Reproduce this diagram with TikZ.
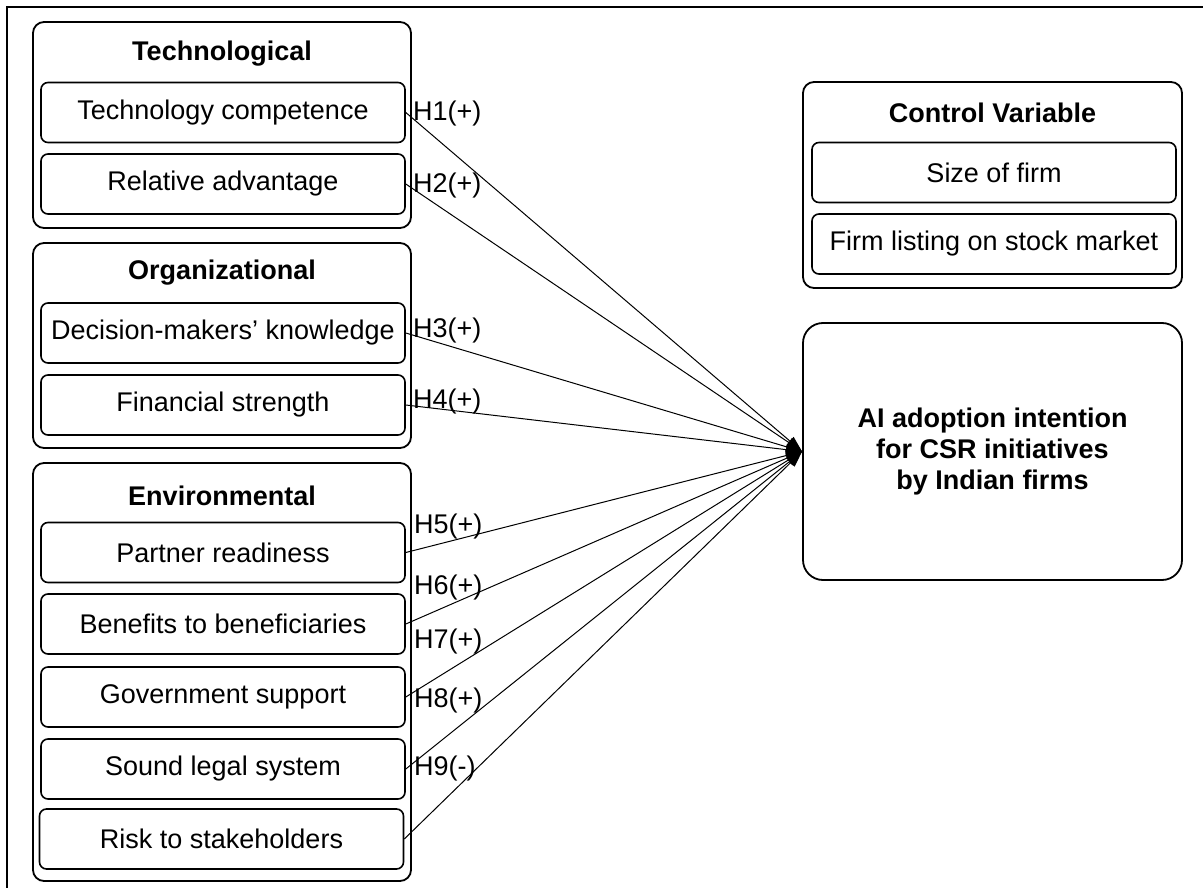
\documentclass[tikz,border=0pt]{standalone}
\usepackage{fontspec}
\setmainfont{Liberation Sans}
\usetikzlibrary{arrows.meta}
\begin{document}
\begin{tikzpicture}[x=1pt,y=-1pt,
  every node/.style={font=\fontsize{27}{31}\selectfont, inner sep=0pt},
  group/.style={draw, line width=1.8pt, rounded corners=11pt, minimum width=378pt},
  item/.style={draw, line width=1.6pt, rounded corners=7pt, minimum width=364pt, minimum height=60pt, align=center},
  title/.style={font=\fontsize{27}{31}\selectfont\bfseries},
  hlabel/.style={anchor=west},
  conn/.style={line width=1pt, -{Triangle[length=16pt,width=11pt]}}
]
\useasboundingbox (0,0) rectangle (1203,888);
\fill[white] (0,0) rectangle (1203,888);
% outer frame (only top and left visible)
\draw[line width=2.6pt] (7,888) -- (7,7) -- (1203,7);

% group boxes
\node[group, minimum height=206pt] (gtech) at (222,125) {};
\node[group, minimum height=205pt] (gorg) at (222,345.5) {};
\node[group, minimum height=418pt] (genv) at (222,672) {};
\node[group, minimum width=379pt, minimum height=206pt] (gctl) at (992.5,185) {};

% titles
\node[title] (ttech) at (222,54) {Technological};
\node[title] (torg) at (222,273) {Organizational};
\node[title] (tenv) at (222,496) {Environmental};
\node[title] (tctl) at (992.5,113) {Control Variable};

% items
\node[item] (tc) at (223,112.5) {Technology competence};
\node[item] (ra) at (223,184) {Relative advantage};
\node[item] (dm) at (223,333) {Decision-makers’ knowledge};
\node[item] (fs) at (223,405) {Financial strength};
\node[item] (pr) at (223,552.5) {Partner readiness};
\node[item] (bb) at (223,624) {Benefits to beneficiaries};
\node[item] (gs) at (223,697) {Government support};
\node[item] (sl) at (223,769) {Sound legal system};
\node[item] (rs) at (221.5,839) {Risk to stakeholders};
\node[item] (sf) at (994,172.5) {Size of firm};
\node[item] (fl) at (994,244) {Firm listing on stock market};

% outcome
\node[draw, line width=1.8pt, rounded corners=20pt, minimum width=379pt, minimum height=257pt, font=\fontsize{27}{31}\selectfont\bfseries, align=center] (ai) at (992.5,451.5) {AI adoption intention\\for CSR initiatives\\by Indian firms};

% connectors
\foreach \s in {tc,ra,dm,fs,pr,bb,gs,sl,rs}{
  \draw[conn] (\s.east) -- (ai.west);
}

% hypothesis labels
\node[hlabel] (h1) at (413,114) {H1(+)};
\node[hlabel] (h2) at (413,186) {H2(+)};
\node[hlabel] (h3) at (413,331) {H3(+)};
\node[hlabel] (h4) at (413,402) {H4(+)};
\node[hlabel] (h5) at (414,527) {H5(+)};
\node[hlabel] (h6) at (414,588) {H6(+)};
\node[hlabel] (h7) at (414,642) {H7(+)};
\node[hlabel] (h8) at (414,701) {H8(+)};
\node[hlabel] (h9) at (414,769) {H9(-)};
\end{tikzpicture}
\end{document}
